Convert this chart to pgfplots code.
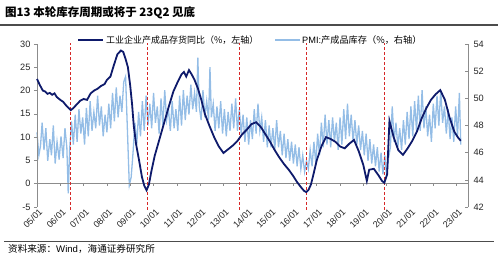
\documentclass[border=0pt]{standalone}
\usepackage{pgfplots}
\pgfplotsset{compat=1.18}
\usepackage{fontspec}
\setmainfont{Liberation Sans}
\newfontfamily\cjk{Noto Sans CJK SC}
\definecolor{navyc}{HTML}{0E1A6B}
\definecolor{pmic}{HTML}{94BDE6}
\definecolor{redc}{HTML}{D62828}
\definecolor{axc}{HTML}{8C8C8C}
\begin{document}
\begin{tikzpicture}
\useasboundingbox (0,0) rectangle (498pt,-257pt);
% title
\node[anchor=west,inner sep=0] at (5pt,-13pt) {\cjk\bfseries\fontsize{11.5}{13}\selectfont 图13 本轮库存周期或将于 23Q2 见底};
\draw[line width=1.2pt, black!70] (0pt,-25pt) -- (498pt,-25pt);
% legend
\draw[navyc, line width=2pt] (78pt,-40pt) -- (103pt,-40pt);
\node[anchor=west,inner sep=0] at (106pt,-40pt) {\cjk\fontsize{9}{10}\selectfont 工业企业产成品存货同比（\%，左轴）};
\draw[pmic, line width=2pt] (275pt,-40pt) -- (300pt,-40pt);
\node[anchor=west,inner sep=0] at (302pt,-40pt) {\fontsize{9.2}{10}\selectfont PMI:\cjk 产成品库存（\%，右轴）};
% source
\draw[line width=0.8pt, black!70] (4pt,-241pt) -- (494pt,-241pt);
\node[anchor=west,inner sep=0] at (8pt,-249pt) {\fontsize{9.6}{11}\selectfont{\cjk 资料来源：}Wind{\cjk ，海通证券研究所}};
% PMI axis (right); x = years since 2005/01
\begin{axis}[at={(37pt,-207pt)}, anchor=south west, scale only axis, width=431pt, height=163pt,
  xmin=0, xmax=18.49, ymin=42, ymax=54,
  axis x line=none, axis y line*=right,
  ytick={42,44,...,54},
  y axis line style={axc, line width=0.6pt, -},
  ytick style={axc, line width=0.6pt},
  major tick length=3pt, tick align=inside,
  yticklabel style={font=\fontsize{9.2}{10}\selectfont, black!85, xshift=2pt},
  /pgf/number format/assume math mode=true,
  clip=false]
\addplot[pmic, line width=1.3pt] table[row sep=\\, header=false, x expr=\thisrowno{0}-2005, y index=1] {
2005.00 47.5\\ 2005.08 45.8\\ 2005.15 46.5\\ 2005.22 48.2\\ 2005.30 46.2\\ 2005.38 47.8\\ 2005.46 45.4\\ 2005.55 47.0\\ 2005.62 45.8\\ 2005.70 48.0\\ 2005.78 45.2\\ 2005.86 46.8\\ 2005.95 45.5\\ 2006.03 47.2\\ 2006.12 45.6\\ 2006.20 47.8\\ 2006.28 46.4\\ 2006.34 43.0\\ 2006.40 46.2\\ 2006.48 48.3\\ 2006.56 46.6\\ 2006.64 48.8\\ 2006.72 46.8\\ 2006.80 49.2\\ 2006.88 47.4\\ 2006.96 48.6\\ 2007.04 46.6\\ 2007.12 49.3\\ 2007.20 47.2\\ 2007.28 49.8\\ 2007.36 47.6\\ 2007.44 49.0\\ 2007.52 47.8\\ 2007.60 50.2\\ 2007.68 48.0\\ 2007.76 49.4\\ 2007.84 47.2\\ 2007.92 48.8\\ 2008.00 47.5\\ 2008.08 49.6\\ 2008.16 47.8\\ 2008.24 50.4\\ 2008.32 48.3\\ 2008.40 50.8\\ 2008.48 48.6\\ 2008.56 50.2\\ 2008.64 49.0\\ 2008.72 51.2\\ 2008.80 51.6\\ 2008.88 47.6\\ 2008.96 43.6\\ 2009.04 44.2\\ 2009.12 46.0\\ 2009.20 48.2\\ 2009.28 46.6\\ 2009.36 49.0\\ 2009.44 47.2\\ 2009.52 49.8\\ 2009.60 47.6\\ 2009.68 50.2\\ 2009.76 48.0\\ 2009.84 49.6\\ 2009.92 47.8\\ 2010.00 50.4\\ 2010.08 48.2\\ 2010.16 49.4\\ 2010.24 47.4\\ 2010.32 50.0\\ 2010.40 48.0\\ 2010.48 50.6\\ 2010.56 48.4\\ 2010.64 49.2\\ 2010.72 47.6\\ 2010.80 49.8\\ 2010.88 47.8\\ 2010.96 49.2\\ 2011.04 47.6\\ 2011.12 50.2\\ 2011.20 48.0\\ 2011.28 50.6\\ 2011.36 48.4\\ 2011.44 50.2\\ 2011.52 48.8\\ 2011.60 51.0\\ 2011.68 49.2\\ 2011.76 50.4\\ 2011.84 49.0\\ 2011.90 53.0\\ 2011.96 49.4\\ 2012.04 48.4\\ 2012.12 50.6\\ 2012.20 48.6\\ 2012.28 49.8\\ 2012.36 48.4\\ 2012.42 52.3\\ 2012.48 48.6\\ 2012.56 49.6\\ 2012.64 47.6\\ 2012.72 49.4\\ 2012.80 47.8\\ 2012.88 49.8\\ 2012.96 47.4\\ 2013.04 49.2\\ 2013.12 47.2\\ 2013.20 49.0\\ 2013.28 47.6\\ 2013.36 49.6\\ 2013.44 47.8\\ 2013.52 50.0\\ 2013.60 47.6\\ 2013.68 49.2\\ 2013.76 47.4\\ 2013.84 48.8\\ 2013.92 46.8\\ 2014.00 48.6\\ 2014.08 46.6\\ 2014.16 48.4\\ 2014.24 47.0\\ 2014.32 49.2\\ 2014.40 47.4\\ 2014.48 49.6\\ 2014.56 47.6\\ 2014.64 48.6\\ 2014.72 46.8\\ 2014.80 48.4\\ 2014.88 46.4\\ 2014.96 48.0\\ 2015.04 46.4\\ 2015.12 47.8\\ 2015.20 46.2\\ 2015.28 48.4\\ 2015.36 46.4\\ 2015.44 47.6\\ 2015.52 45.8\\ 2015.60 47.4\\ 2015.68 45.6\\ 2015.76 47.0\\ 2015.84 45.4\\ 2015.92 46.8\\ 2016.00 45.2\\ 2016.08 46.6\\ 2016.16 45.0\\ 2016.24 46.4\\ 2016.32 44.8\\ 2016.40 45.8\\ 2016.48 44.6\\ 2016.56 45.4\\ 2016.64 44.8\\ 2016.72 46.2\\ 2016.80 45.0\\ 2016.88 46.8\\ 2016.96 45.2\\ 2017.04 47.4\\ 2017.12 45.8\\ 2017.20 48.2\\ 2017.28 46.4\\ 2017.36 48.8\\ 2017.44 46.6\\ 2017.52 48.4\\ 2017.60 46.4\\ 2017.68 48.6\\ 2017.76 46.8\\ 2017.84 48.2\\ 2017.92 46.2\\ 2018.00 48.6\\ 2018.08 46.6\\ 2018.16 49.2\\ 2018.24 47.0\\ 2018.32 49.6\\ 2018.40 47.2\\ 2018.48 48.8\\ 2018.56 46.8\\ 2018.64 48.4\\ 2018.72 46.6\\ 2018.80 48.0\\ 2018.88 46.2\\ 2018.96 47.6\\ 2019.04 45.8\\ 2019.12 47.4\\ 2019.20 45.4\\ 2019.28 47.0\\ 2019.36 45.2\\ 2019.44 46.6\\ 2019.52 45.0\\ 2019.60 46.4\\ 2019.68 44.6\\ 2019.76 46.0\\ 2019.84 44.4\\ 2019.92 45.8\\ 2020.00 44.3\\ 2020.08 45.6\\ 2020.16 46.4\\ 2020.24 49.4\\ 2020.32 46.8\\ 2020.40 48.2\\ 2020.48 46.4\\ 2020.56 47.8\\ 2020.64 46.2\\ 2020.72 48.4\\ 2020.80 46.6\\ 2020.88 49.0\\ 2020.96 47.0\\ 2021.04 49.4\\ 2021.12 47.2\\ 2021.20 49.8\\ 2021.28 47.6\\ 2021.36 50.2\\ 2021.44 47.6\\ 2021.52 50.6\\ 2021.60 47.8\\ 2021.68 49.4\\ 2021.76 47.2\\ 2021.84 48.8\\ 2021.92 46.8\\ 2022.00 49.6\\ 2022.08 47.8\\ 2022.16 50.2\\ 2022.24 48.0\\ 2022.32 50.6\\ 2022.40 48.2\\ 2022.48 49.4\\ 2022.56 47.4\\ 2022.64 49.2\\ 2022.72 47.0\\ 2022.80 48.6\\ 2022.88 46.8\\ 2022.96 49.4\\ 2023.04 47.2\\ 2023.12 50.4\\ 2023.18 46.6\\
};
\end{axis}
% main axis (left)
\begin{axis}[at={(37pt,-207pt)}, anchor=south west, scale only axis, width=431pt, height=163pt,
  xmin=0, xmax=18.49, ymin=-5, ymax=30,
  axis y line*=left, axis x line*=bottom,
  x axis line style={draw=none},
  y axis line style={axc, line width=0.6pt, -},
  ytick={-5,0,...,30},
  xtick={0,...,18},
  xticklabels={05/01,06/01,07/01,08/01,09/01,10/01,11/01,12/01,13/01,14/01,15/01,16/01,17/01,18/01,19/01,20/01,21/01,22/01,23/01},
  x tick style={draw=none},
  ytick style={axc, line width=0.6pt},
  major tick length=3pt, tick align=outside,
  yticklabel style={font=\fontsize{9.2}{10}\selectfont, black!85},
  xticklabel style={font=\fontsize{9}{10}\selectfont, black!85, rotate=45, anchor=east, inner sep=0.5pt, xshift=3pt, yshift=-3pt},
  /pgf/number format/assume math mode=true,
  clip=false]
% x axis line at zero with small ticks
\addplot[axc, line width=0.6pt] coordinates {(0,0)(18.49,0)};
\addplot[axc, line width=0.6pt, ycomb, mark=none] coordinates {(0,-0.5)(1,-0.5)(2,-0.5)(3,-0.5)(4,-0.5)(5,-0.5)(6,-0.5)(7,-0.5)(8,-0.5)(9,-0.5)(10,-0.5)(11,-0.5)(12,-0.5)(13,-0.5)(14,-0.5)(15,-0.5)(16,-0.5)(17,-0.5)(18,-0.5)};
% red dashed cycle lines
\addplot[redc, line width=1pt, dash pattern=on 3pt off 2pt] coordinates {(1.42,-5.6)(1.42,30.2)};
\addplot[redc, line width=1pt, dash pattern=on 3pt off 2pt] coordinates {(4.72,-5.6)(4.72,30.2)};
\addplot[redc, line width=1pt, dash pattern=on 3pt off 2pt] coordinates {(8.67,-5.6)(8.67,30.2)};
\addplot[redc, line width=1pt, dash pattern=on 3pt off 2pt] coordinates {(11.55,-5.6)(11.55,30.2)};
\addplot[redc, line width=1pt, dash pattern=on 3pt off 2pt] coordinates {(14.90,-5.6)(14.90,30.2)};
% industrial finished goods inventory yoy
\addplot[navyc, line width=1.8pt] table[row sep=\\, header=false, x expr=\thisrowno{0}-2005, y index=1] {
2005.00 22.5\\ 2005.12 21.2\\ 2005.25 20.0\\ 2005.35 19.8\\ 2005.45 19.3\\ 2005.55 19.5\\ 2005.65 19.1\\ 2005.75 19.4\\ 2005.85 18.6\\ 2006.00 18.0\\ 2006.12 17.6\\ 2006.25 16.8\\ 2006.35 16.3\\ 2006.45 15.8\\ 2006.55 16.2\\ 2006.70 17.0\\ 2006.85 17.8\\ 2007.00 18.2\\ 2007.15 18.0\\ 2007.30 19.4\\ 2007.45 20.0\\ 2007.60 20.4\\ 2007.75 21.0\\ 2007.90 21.4\\ 2008.00 22.3\\ 2008.15 23.0\\ 2008.30 25.5\\ 2008.45 27.8\\ 2008.60 28.6\\ 2008.70 28.3\\ 2008.80 26.8\\ 2008.90 25.0\\ 2009.00 21.0\\ 2009.08 17.0\\ 2009.15 12.5\\ 2009.25 8.5\\ 2009.38 5.0\\ 2009.50 1.5\\ 2009.60 -0.4\\ 2009.70 -1.4\\ 2009.80 -0.2\\ 2009.90 2.5\\ 2010.05 6.0\\ 2010.25 9.5\\ 2010.45 13.0\\ 2010.65 16.5\\ 2010.85 19.8\\ 2011.05 22.0\\ 2011.20 23.5\\ 2011.30 24.0\\ 2011.40 23.0\\ 2011.52 24.4\\ 2011.62 23.6\\ 2011.75 22.4\\ 2011.90 20.5\\ 2012.05 18.0\\ 2012.20 15.0\\ 2012.40 12.4\\ 2012.60 10.0\\ 2012.80 8.0\\ 2013.00 6.6\\ 2013.20 7.4\\ 2013.40 8.2\\ 2013.60 9.2\\ 2013.80 10.6\\ 2014.00 11.6\\ 2014.20 12.8\\ 2014.40 13.2\\ 2014.60 12.2\\ 2014.80 10.6\\ 2015.00 9.0\\ 2015.20 7.2\\ 2015.40 5.6\\ 2015.60 4.2\\ 2015.80 3.0\\ 2016.00 1.6\\ 2016.15 0.4\\ 2016.30 -0.6\\ 2016.45 -1.5\\ 2016.55 -1.8\\ 2016.65 -1.3\\ 2016.75 -0.2\\ 2016.85 1.8\\ 2017.00 5.0\\ 2017.20 8.0\\ 2017.40 10.0\\ 2017.60 9.6\\ 2017.80 9.0\\ 2018.00 8.0\\ 2018.20 7.6\\ 2018.40 8.6\\ 2018.60 9.4\\ 2018.80 7.0\\ 2019.00 4.0\\ 2019.15 0.6\\ 2019.25 3.0\\ 2019.45 3.2\\ 2019.65 1.8\\ 2019.80 0.6\\ 2019.90 0.2\\ 2020.02 2.0\\ 2020.12 13.5\\ 2020.30 10.0\\ 2020.50 7.2\\ 2020.70 6.2\\ 2020.90 7.6\\ 2021.10 9.2\\ 2021.30 11.2\\ 2021.50 14.0\\ 2021.70 16.2\\ 2021.90 18.0\\ 2022.10 19.2\\ 2022.30 20.1\\ 2022.50 18.0\\ 2022.70 14.2\\ 2022.90 11.2\\ 2023.05 10.0\\ 2023.18 9.2\\
};
\end{axis}
\end{tikzpicture}
\end{document}
